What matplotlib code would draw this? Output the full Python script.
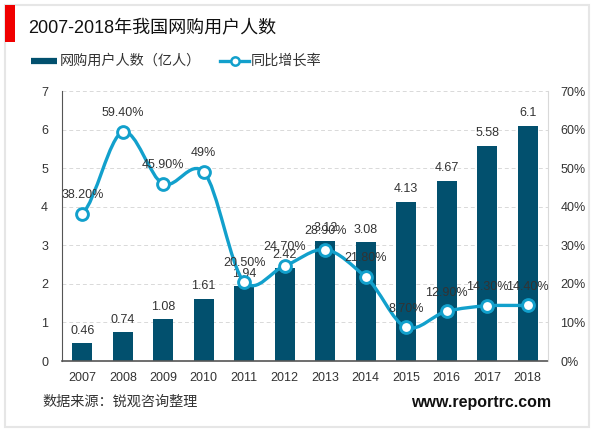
import matplotlib
matplotlib.use("Agg")
import matplotlib.pyplot as plt
from matplotlib.path import Path
from matplotlib.patches import PathPatch, Rectangle
from matplotlib.lines import Line2D

plt.rcParams['font.family'] = ['Liberation Sans', 'Noto Sans CJK SC']

years = ['2007', '2008', '2009', '2010', '2011', '2012', '2013', '2014', '2015', '2016', '2017', '2018']
users = [0.46, 0.74, 1.08, 1.61, 1.94, 2.42, 3.12, 3.08, 4.13, 4.67, 5.58, 6.1]
user_labels = ['0.46', '0.74', '1.08', '1.61', '1.94', '2.42', '3.12', '3.08', '4.13', '4.67', '5.58', '6.1']
growth = [38.2, 59.4, 45.9, 49, 20.5, 24.7, 28.9, 21.8, 8.7, 12.9, 14.3, 14.4]
growth_labels = ['38.20%', '59.40%', '45.90%', '49%', '20.50%', '24.70%', '28.90%', '21.80%', '8.70%', '12.90%', '14.30%', '14.40%']

BAR = '#02506e'
LINE = '#12a0cc'
TXT = '#333333'
W, H = 600, 433

fig = plt.figure(figsize=(6, 4.33), dpi=100)

# axes box in pixels
left, right, top, bottom = 62, 548, 91, 361
ax = fig.add_axes([left / W, 1 - bottom / H, (right - left) / W, (bottom - top) / H])
ax2 = ax.twinx()

xs = list(range(len(years)))
ax.bar(xs, users, width=0.5, color=BAR)
ax.set_xlim(-0.5, 11.5)
ax.set_ylim(0, 7)
ax.set_xticks(xs)
ax.set_xticklabels(years)
ax.set_yticks(range(8))
ax.grid(axis='y', color='#d9d9d9', linestyle=(0, (4, 3)), linewidth=0.7)
ax.set_axisbelow(True)
ax.tick_params(axis='x', length=0, labelsize=9, colors=TXT, pad=8)
ax.tick_params(axis='y', length=0, labelsize=9, colors=TXT, pad=10)
for s in ['top', 'right']:
    ax.spines[s].set_visible(False)
ax.spines['left'].set_color('#555555')
ax.spines['bottom'].set_color('#555555')
ax.spines['bottom'].set_linewidth(1.2)

ax2.set_ylim(0, 70)
ax2.set_yticks(range(0, 71, 10))
ax2.set_yticklabels([f'{v}%' for v in range(0, 71, 10)])
ax2.tick_params(axis='y', length=0, labelsize=9, colors=TXT, pad=9)
for s in ['top', 'left', 'bottom']:
    ax2.spines[s].set_visible(False)
ax2.spines['right'].set_color('#d9d9d9')

# smoothed line like the office chart, bezier segments through the points
tension = 0.14
verts = [(xs[0], growth[0])]
codes = [Path.MOVETO]
for i in range(len(xs) - 1):
    p0 = growth[max(i - 1, 0)]
    p1 = growth[i]
    p2 = growth[i + 1]
    p3 = growth[min(i + 2, len(xs) - 1)]
    verts += [(xs[i] + 1 / 3, p1 + (p2 - p0) * tension), (xs[i + 1] - 1 / 3, p2 - (p3 - p1) * tension), (xs[i + 1], p2)]
    codes += [Path.CURVE4, Path.CURVE4, Path.CURVE4]
ax2.add_patch(PathPatch(Path(verts, codes), fill=False, edgecolor=LINE, linewidth=2.4, zorder=3))
ax2.plot(xs, growth, linestyle='none', marker='o', markersize=8.5, markerfacecolor='white',
         markeredgecolor=LINE, markeredgewidth=2.1, zorder=4)

for x, v, t in zip(xs, users, user_labels):
    ax.text(x, v + 0.17, t, ha='center', va='bottom', fontsize=9, color=TXT)
for x, v, t in zip(xs, growth, growth_labels):
    ax2.text(x, v + 3.3, t, ha='center', va='bottom', fontsize=9, color=TXT, zorder=5)

# frame, red tab, title, legend, footer
fig.add_artist(Rectangle((5 / W, 1 - 427 / H), 584 / W, 422 / H, transform=fig.transFigure,
                         fill=False, edgecolor='#e6e6e6', linewidth=1.5))
fig.add_artist(Rectangle((5 / W, 1 - 42 / H), 10 / W, 37 / H, transform=fig.transFigure,
                         facecolor='#f00000', edgecolor='none'))
fig.text(28 / W, 1 - 28 / H, '2007-2018年我国网购用户人数', fontsize=13, color='#111111', va='center')

fig.add_artist(Line2D([31 / W, 57 / W], [1 - 61 / H, 1 - 61 / H], color=BAR, linewidth=4.5, solid_capstyle='butt'))
fig.text(60 / W, 1 - 61 / H, '网购用户人数（亿人）', fontsize=10.2, color=TXT, va='center')
fig.add_artist(Line2D([220 / W, 249 / W], [1 - 61 / H, 1 - 61 / H], color=LINE, linewidth=2.4))
fig.add_artist(Line2D([234.5 / W], [1 - 61 / H], color=LINE, marker='o', markersize=6,
                      markerfacecolor='white', markeredgecolor=LINE, markeredgewidth=1.8))
fig.text(251 / W, 1 - 61 / H, '同比增长率', fontsize=10.2, color=TXT, va='center')

fig.text(42 / W, 1 - 402 / H, '数据来源：锐观咨询整理', fontsize=10.2, color=TXT, va='center')
fig.text(551 / W, 1 - 402 / H, 'www.reportrc.com', fontsize=11.5, fontweight='bold', color='#111111',
         va='center', ha='right')

fig.savefig('out.png', dpi=100)
